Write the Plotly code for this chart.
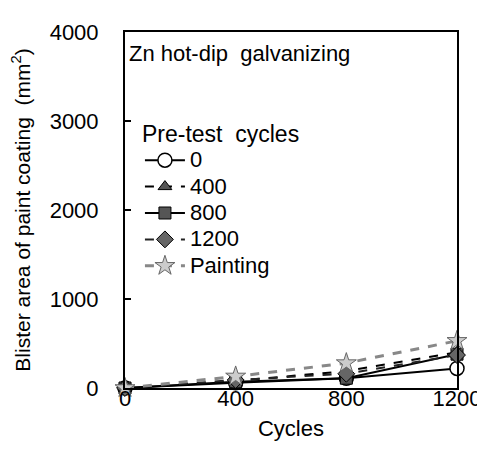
import plotly.graph_objects as go

cycles = [0, 400, 800, 1200]
series_names = ["0", "400", "800", "1200", "Painting"]
blister_0 = [0, 60, 110, 220]
blister_400 = [0, 80, 190, 400]
blister_800 = [0, 70, 110, 380]
blister_1200 = [0, 90, 160, 370]
blister_painting = [0, 130, 280, 530]

x_ticks = [0, 400, 800, 1200]
y_ticks = [0, 1000, 2000, 3000, 4000]

FONT = "Liberation Sans, Arial, sans-serif"

styles = [
    dict(data=blister_0, dash="solid", lc="black", lw=2,
         marker=dict(symbol="circle", size=14, color="white", line=dict(color="black", width=1.5))),
    dict(data=blister_400, dash="dash", lc="black", lw=2,
         marker=dict(symbol="triangle-up", size=12, color="#555555", line=dict(color="black", width=1))),
    dict(data=blister_800, dash="solid", lc="black", lw=2,
         marker=dict(symbol="square", size=12, color="#555555", line=dict(color="black", width=1))),
    dict(data=blister_1200, dash="dash", lc="#222222", lw=2,
         marker=dict(symbol="diamond", size=13, color="#666666", line=dict(color="black", width=1))),
    dict(data=blister_painting, dash="dash", lc="#888888", lw=3,
         marker=dict(symbol="star", size=15, color="#cccccc", line=dict(color="#666666", width=1))),
]

fig = go.Figure()
for name, st in zip(series_names, styles):
    fig.add_trace(go.Scatter(
        x=cycles, y=st["data"], mode="lines+markers",
        name='<span style="font-size:22px">' + name + '</span>',
        line=dict(color=st["lc"], width=st["lw"], dash=st["dash"]),
        marker=st["marker"], cliponaxis=False,
    ))

fig.add_annotation(
    x=0.005, y=0.94, xref="paper", yref="paper", xanchor="left", yanchor="middle",
    text="Zn hot-dip  galvanizing", showarrow=False,
    font=dict(family=FONT, size=22, color="black"),
)

fig.update_layout(
    width=485, height=450,
    margin=dict(l=117, r=25, t=20, b=70),
    paper_bgcolor="white", plot_bgcolor="white",
    font=dict(family=FONT, size=20, color="black"),
    showlegend=True,
    legend=dict(
        x=0.045, y=0.775, xanchor="left", yanchor="top",
        bgcolor="rgba(0,0,0,0)", borderwidth=0,
        title=dict(text="Pre-test  cycles", font=dict(family=FONT, size=23)),
        font=dict(family=FONT, size=18),
        tracegroupgap=0, itemwidth=40,
    ),
    xaxis=dict(
        range=[0, 1200], tickvals=x_ticks, ticktext=[str(v) for v in x_ticks],
        showline=True, linecolor="black", linewidth=2, mirror=True,
        ticks="", showgrid=False, zeroline=False,
        title=dict(text="Cycles", font=dict(size=22), standoff=10),
        tickfont=dict(size=22), ticklabelstandoff=-10,
    ),
    yaxis=dict(
        range=[0, 4000], tickvals=y_ticks, ticktext=[str(v) for v in y_ticks],
        showline=True, linecolor="black", linewidth=2, mirror=True,
        ticks="inside", ticklen=6, tickwidth=2, tickcolor="black",
        showgrid=False, zeroline=False,
        title=dict(text="Blister area of paint coating  (mm<sup>2</sup>)", font=dict(size=21), standoff=13),
        tickfont=dict(size=22), ticklabelstandoff=20,
    ),
)

fig.write_html("out.html")
